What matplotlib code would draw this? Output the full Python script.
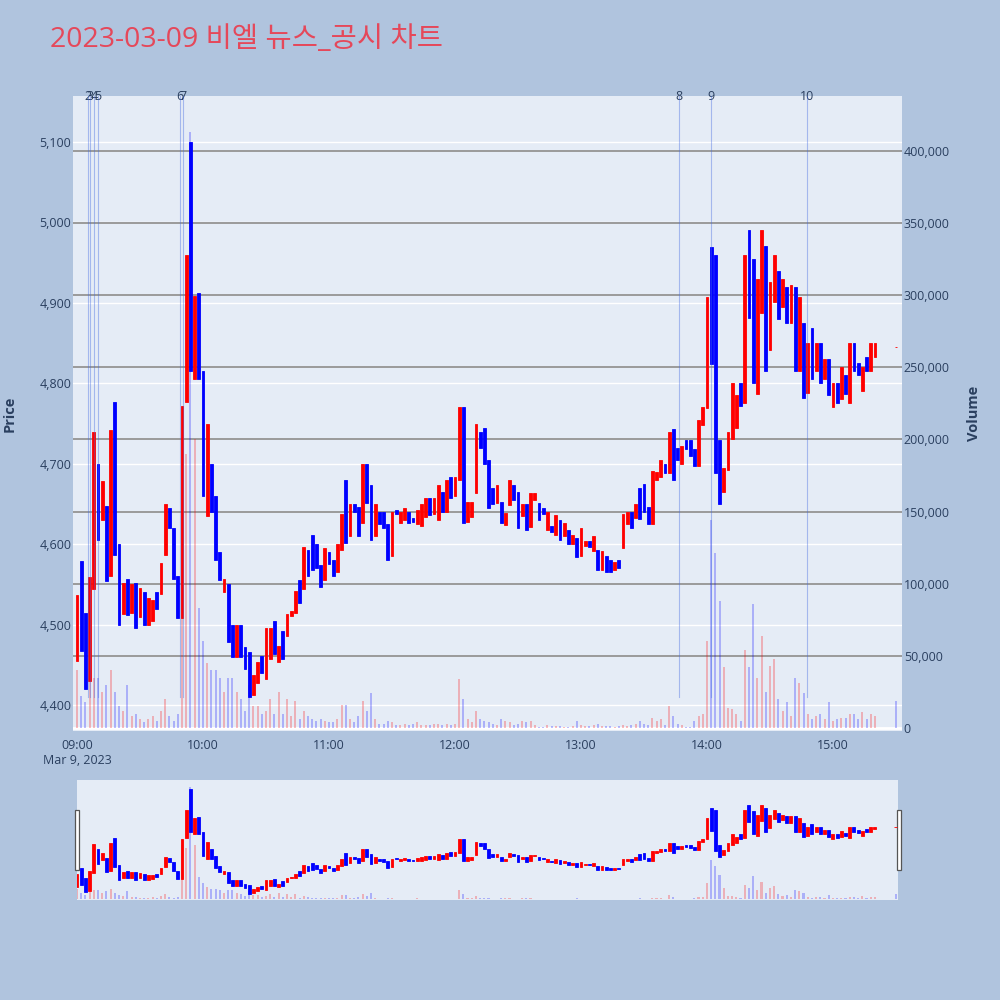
"""Intraday price/volume chart with news markers for 2023-03-09 (plotly-like look).

Run:  python plot.py   ->  out.png (1000x1000)
"""
import matplotlib
matplotlib.use("Agg")
import matplotlib.pyplot as plt
import matplotlib.transforms as mtransforms
from matplotlib.patches import Rectangle
import numpy as np
import pandas as pd

plt.rcParams["font.family"] = ["Open Sans", "Noto Sans CJK KR", "DejaVu Sans"]

TITLE = "2023-03-09 비엘 뉴스_공시 차트"
DAY = "2023-03-09"

# 2-minute bars 09:00-15:20, then the 15:30 closing print
times = list(pd.date_range(f"{DAY} 09:00", f"{DAY} 15:20", freq="2min")) + [pd.Timestamp(f"{DAY} 15:30")]

opens = [
    4455, 4579, 4515, 4430, 4544, 4700, 4630, 4647, 4561, 4777, 4600, 4513, 4557, 4515, 4552, 4510,
    4540, 4500, 4505, 4540, 4538, 4586, 4645, 4620, 4561, 4508, 4777, 5100, 4805, 4912, 4815, 4635,
    4700, 4660, 4590, 4540, 4550, 4500, 4460, 4500, 4472, 4466, 4412, 4428, 4461, 4432, 4457, 4505,
    4453, 4492, 4486, 4511, 4515, 4556, 4544, 4593, 4611, 4600, 4574, 4556, 4590, 4580, 4565, 4593,
    4680, 4610, 4650, 4646, 4626, 4700, 4673, 4610, 4640, 4640, 4625, 4585, 4642, 4626, 4630, 4640,
    4632, 4625, 4622, 4634, 4658, 4638, 4630, 4665, 4640, 4683, 4660, 4680, 4770, 4627, 4634, 4663,
    4740, 4745, 4705, 4670, 4651, 4652, 4624, 4649, 4673, 4665, 4635, 4650, 4621, 4655, 4651, 4645,
    4618, 4622, 4612, 4630, 4610, 4618, 4600, 4608, 4585, 4598, 4604, 4592, 4593, 4568, 4585, 4580,
    4568, 4580, 4595, 4625, 4640, 4633, 4670, 4675, 4646, 4625, 4680, 4684, 4700, 4688, 4743, 4720,
    4700, 4730, 4730, 4718, 4697, 4748, 4769, 4970, 4960, 4730, 4665, 4692, 4731, 4745, 4800, 4775,
    4990, 4955, 4787, 4888, 4971, 4841, 4901, 4940, 4895, 4920, 4875, 4920, 4815, 4875, 4788, 4869,
    4815, 4850, 4805, 4830, 4770, 4800, 4780, 4810, 4775, 4850, 4825, 4790, 4833, 4815, 4833, 4845,
]
closes = [
    4537, 4467, 4420, 4559, 4739, 4605, 4678, 4554, 4742, 4586, 4500, 4552, 4512, 4550, 4496, 4545,
    4500, 4533, 4530, 4520, 4576, 4650, 4620, 4557, 4508, 4772, 4960, 4815, 4908, 4805, 4660, 4750,
    4640, 4580, 4555, 4557, 4478, 4460, 4500, 4460, 4445, 4410, 4437, 4453, 4440, 4496, 4496, 4463,
    4474, 4457, 4513, 4517, 4542, 4527, 4597, 4560, 4568, 4570, 4547, 4595, 4575, 4560, 4600, 4638,
    4601, 4650, 4640, 4610, 4700, 4651, 4605, 4650, 4625, 4620, 4580, 4640, 4637, 4640, 4645, 4626,
    4627, 4642, 4650, 4658, 4636, 4658, 4673, 4640, 4680, 4658, 4683, 4770, 4626, 4653, 4653, 4750,
    4720, 4700, 4645, 4650, 4673, 4626, 4639, 4680, 4655, 4620, 4650, 4617, 4663, 4663, 4630, 4637,
    4640, 4615, 4636, 4605, 4626, 4600, 4612, 4584, 4620, 4604, 4596, 4610, 4568, 4591, 4565, 4565,
    4578, 4570, 4638, 4640, 4620, 4650, 4631, 4640, 4625, 4691, 4690, 4705, 4688, 4740, 4680, 4705,
    4722, 4718, 4710, 4697, 4754, 4770, 4907, 4824, 4688, 4650, 4695, 4740, 4800, 4785, 4772, 4960,
    4881, 4800, 4930, 4990, 4815, 4926, 4960, 4880, 4930, 4875, 4922, 4815, 4907, 4782, 4850, 4805,
    4850, 4800, 4830, 4785, 4800, 4775, 4820, 4787, 4850, 4815, 4810, 4820, 4815, 4850, 4850, 4845,
]
volumes = [
    40000, 22000, 18000, 35000, 35000, 35000, 25000, 30000, 40000, 25000, 15000, 12000, 30000, 8000, 10000, 6000,
    4000, 6000, 8000, 5000, 12000, 20000, 8000, 5000, 10000, 200000, 190000, 413000, 200000, 83000, 60000, 45000,
    40000, 40000, 35000, 25000, 35000, 35000, 25000, 20000, 12000, 30000, 15000, 15000, 10000, 12000, 20000, 10000,
    25000, 10000, 20000, 8000, 19000, 6000, 12000, 8000, 6000, 5000, 6000, 5000, 4000, 4000, 6000, 16000,
    16000, 6000, 4000, 8000, 19000, 12000, 24000, 6000, 3000, 3000, 5000, 4000, 2000, 2000, 3000, 2000,
    3000, 4000, 2000, 2000, 2000, 3000, 3000, 2000, 3000, 2000, 3000, 34000, 20000, 6000, 4000, 12000,
    6000, 5000, 4000, 3000, 2000, 6000, 5000, 4000, 2000, 3000, 5000, 4000, 5000, 2000, 1000, 1000,
    2000, 1500, 1500, 1500, 1000, 1000, 1500, 5000, 2000, 1500, 1500, 2000, 3000, 1500, 1500, 1500,
    1000, 1500, 2000, 1500, 2000, 3000, 5000, 3000, 2000, 7000, 5000, 6000, 2000, 15000, 8000, 3000,
    2000, 1000, 1000, 5000, 8000, 10000, 60000, 144000, 121000, 88000, 42000, 14000, 13000, 10000, 5000, 54000,
    42000, 86000, 35000, 64000, 25000, 43000, 48000, 20000, 12000, 18000, 8000, 35000, 31000, 24000, 10000, 6000,
    8000, 10000, 6000, 18000, 5000, 6000, 7000, 7000, 10000, 10000, 6000, 11000, 6000, 10000, 8000, 19000,
]

news_labels = ["2", "3", "4", "5", "6", "7", "8", "9", "10"]
news_times = ["09:05:20", "09:06:10", "09:08:15", "09:10:05", "09:49:00",
              "09:50:40", "13:46:40", "14:01:55", "14:47:30"]

hour_ticks = ["09:00", "10:00", "11:00", "12:00", "13:00", "14:00", "15:00"]
hour_labels = ["09:00\nMar 9, 2023", "10:00", "11:00", "12:00", "13:00", "14:00", "15:00"]
price_ticks = [4400, 4500, 4600, 4700, 4800, 4900, 5000, 5100]
volume_ticks = [0, 50000, 100000, 150000, 200000, 250000, 300000, 350000, 400000]

UP, DOWN = "#ff0000", "#0000ff"
FIG_BG, PLOT_BG = "#b0c4de", "#e5ecf6"
TEXT = "#2a3f5f"
PRICE_LIM = (4367.7, 5157.2)
VOL_LIM = (-2080, 438100)
START = pd.Timestamp(f"{DAY} 09:00")


def minutes(stamps):
    out = []
    for s in stamps:
        ts = s if isinstance(s, pd.Timestamp) else pd.Timestamp(f"{DAY} {s}")
        out.append((ts - START).total_seconds() / 60)
    return np.array(out)


def _draw(ax_vol, ax_px, x, o, c, v):
    o, c, v = np.asarray(o), np.asarray(c), np.asarray(v)
    prev = np.r_[c[0], c[:-1]]
    vol_up = (c > o) | ((c == o) & (c >= prev))
    ax_vol.bar(x, v, width=1.0, color=np.where(vol_up, UP, DOWN), alpha=0.25,
               linewidth=0, zorder=2)
    cols = np.where(c >= o, UP, DOWN)
    ax_px.bar(x, np.abs(c - o), width=1.35, bottom=np.minimum(o, c), color=cols,
              edgecolor=cols, linewidth=0.6, zorder=3)


def _bare(ax):
    for s in ax.spines.values():
        s.set_visible(False)


def main():
    x = minutes(times)
    fig = plt.figure(figsize=(10, 10), dpi=100, facecolor=FIG_BG)
    fig.text(0.05, 0.96, TITLE, fontsize=20.5, color="#e5485a", ha="left", va="center")

    # main panel: volume axis underneath (holds background + grids), price on top
    axv = fig.add_axes([0.0733, 0.269, 0.8284, 0.635])
    axv.set_facecolor(PLOT_BG)
    axp = axv.twinx()
    axp.set_zorder(axv.get_zorder() + 1)
    axp.patch.set_visible(False)
    for ax in (axv, axp):
        _bare(ax)
        ax.set_xlim(-1.76, 392.7)
    axv.set_ylim(VOL_LIM)
    axp.set_ylim(PRICE_LIM)
    axv.yaxis.tick_right()
    axv.yaxis.set_label_position("right")
    axp.yaxis.tick_left()
    axp.yaxis.set_label_position("left")

    price_grid = mtransforms.blended_transform_factory(axv.transAxes, axp.transData)
    for p in price_ticks:
        axv.plot([0, 1], [p, p], transform=price_grid, color="white", lw=1.0, zorder=0.5)
    for vt in volume_ticks[1:]:
        axv.axhline(vt, color="#9a9a9a", lw=1.4, zorder=0.6)
    axv.axhline(0, color="white", lw=2, zorder=0.7)

    _draw(axv, axp, x, opens, closes, volumes)

    axp.set_yticks(price_ticks, labels=[f"{p:,}" for p in price_ticks])
    axv.set_yticks(volume_ticks, labels=[f"{t:,}" for t in volume_ticks])
    axv.set_xticks(minutes(hour_ticks), labels=hour_labels)
    for ax in (axv, axp):
        ax.tick_params(length=0, labelsize=9, labelcolor=TEXT, pad=1.5)
    axv.tick_params(axis="x", pad=6)
    axp.set_ylabel("Price", fontsize=10.5, fontweight="bold", color=TEXT)
    axv.set_ylabel("Volume", fontsize=10.5, fontweight="bold", color=TEXT)
    axp.yaxis.set_label_coords(-0.068, 0.5)
    axv.yaxis.set_label_coords(1.079, 0.5)

    top = mtransforms.blended_transform_factory(axp.transData, axp.transAxes)
    for lab, tx in zip(news_labels, minutes(news_times)):
        axp.axvline(tx, ymin=0.054, ymax=1, color="#4169e1", alpha=0.4, lw=0.8, zorder=4)
        axp.text(tx, 1.0, lab, transform=top, ha="center", va="center",
                 fontsize=9, color=TEXT, clip_on=False)

    # range slider
    ass = fig.add_axes([0.0767, 0.1, 0.8213, 0.12])
    ass.set_facecolor(PLOT_BG)
    asp = ass.twinx()
    asp.set_zorder(ass.get_zorder() + 1)
    asp.patch.set_visible(False)
    for ax in (ass, asp):
        _bare(ax)
        ax.set_xlim(-0.14, 391)
        ax.set_xticks([])
        ax.set_yticks([])
    ass.set_ylim(VOL_LIM)
    asp.set_ylim(PRICE_LIM)
    _draw(ass, asp, x, opens, closes, volumes)
    for left in (0.0745, 0.8965):
        fig.add_artist(Rectangle((left, 0.13), 0.0045, 0.06, transform=fig.transFigure,
                                 facecolor="white", edgecolor="#555555", lw=0.9))

    fig.savefig("out.png", dpi=100, facecolor=FIG_BG)
    plt.close(fig)


if __name__ == "__main__":
    main()
